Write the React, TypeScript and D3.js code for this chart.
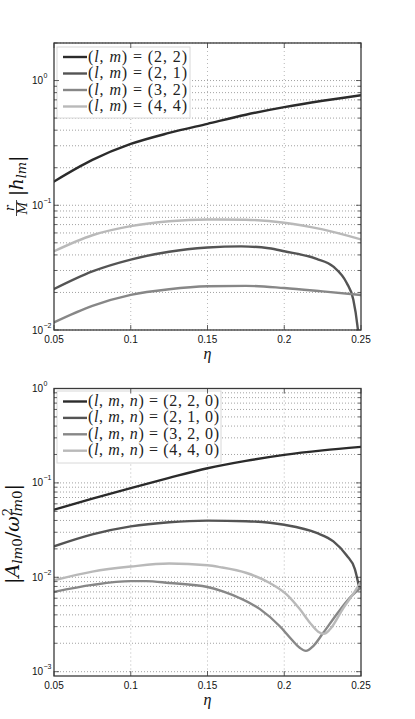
import React from "react";
import * as d3 from "d3";

type Pt = [number, number];

const ETA_TICKS = [0.05, 0.1, 0.15, 0.2, 0.25];
const ETA_TICK_LABELS = ["0.05", "0.1", "0.15", "0.2", "0.25"];

const TOP_Y_DOMAIN: [number, number] = [0.01, 2];
const BOTTOM_Y_DOMAIN: [number, number] = [0.0009, 1];
const TOP_DECADES = [-2, -1, 0];
const BOTTOM_DECADES = [-3, -2, -1, 0];

const TOP_LEGEND = ["(2, 2)", "(2, 1)", "(3, 2)", "(4, 4)"];
const BOTTOM_LEGEND = ["(2, 2, 0)", "(2, 1, 0)", "(3, 2, 0)", "(4, 4, 0)"];

const COLORS = ["#2b2b2b", "#545454", "#878787", "#b9b9b9"];

// top panel: r/M |h_lm|
const H22: Pt[] = [[0.05, 0.155], [0.075, 0.231], [0.1, 0.31], [0.125, 0.38], [0.15, 0.45], [0.175, 0.532], [0.2, 0.612], [0.225, 0.688], [0.25, 0.762]];
const H21: Pt[] = [[0.05, 0.0213], [0.075, 0.0295], [0.1, 0.0367], [0.125, 0.0424], [0.15, 0.0458], [0.172, 0.0468], [0.19, 0.0452], [0.2, 0.0428], [0.2211, 0.0372], [0.232, 0.0322], [0.2407, 0.0238], [0.245, 0.0175], [0.2476, 0.011], [0.249, 0.0072], [0.2499, 0.0025]];
const H32: Pt[] = [[0.05, 0.0115], [0.075, 0.0156], [0.1, 0.0191], [0.125, 0.0212], [0.15, 0.0224], [0.175, 0.0226], [0.2, 0.0217], [0.225, 0.0204], [0.25, 0.0191]];
const H44: Pt[] = [[0.05, 0.0428], [0.075, 0.0575], [0.1, 0.068], [0.125, 0.0745], [0.15, 0.077], [0.175, 0.0765], [0.2, 0.0725], [0.225, 0.064], [0.25, 0.0532]];

// bottom panel: |A_lm0 / w^2_lm0|
const A22: Pt[] = [[0.05, 0.052], [0.075, 0.068], [0.1, 0.088], [0.125, 0.113], [0.15, 0.143], [0.175, 0.171], [0.2, 0.198], [0.225, 0.221], [0.25, 0.241]];
const A21: Pt[] = [[0.05, 0.0213], [0.075, 0.0285], [0.1, 0.0346], [0.125, 0.0383], [0.15, 0.0398], [0.175, 0.0393], [0.2, 0.036], [0.2211, 0.0295], [0.232, 0.024], [0.2407, 0.017], [0.246, 0.0122], [0.2488, 0.0078]];
const A32: Pt[] = [[0.05, 0.007], [0.075, 0.0083], [0.1, 0.0091], [0.11, 0.0091], [0.125, 0.0087], [0.15, 0.0079], [0.16, 0.0071], [0.1712, 0.006], [0.1842, 0.0046], [0.1971, 0.00303], [0.2048, 0.00219], [0.2101, 0.00179], [0.2141, 0.00166], [0.2189, 0.00187], [0.2254, 0.00258], [0.2341, 0.00404], [0.2427, 0.00605], [0.25, 0.0078]];
const A44: Pt[] = [[0.05, 0.0093], [0.075, 0.0115], [0.1, 0.013], [0.125, 0.014], [0.15, 0.0134], [0.1582, 0.0128], [0.1755, 0.0111], [0.1906, 0.0087], [0.2015, 0.0066], [0.2101, 0.0046], [0.2167, 0.0033], [0.2221, 0.00265], [0.2258, 0.00252], [0.2297, 0.0028], [0.2384, 0.0047], [0.246, 0.0071], [0.25, 0.009]];

const TOP_SERIES = [H22, H21, H32, H44];
const BOTTOM_SERIES = [A22, A21, A32, A44];

const LEFT = 54;
const RIGHT = 361;
const TICK_FONT = "'Liberation Sans', Arial, sans-serif";
const MATH_FONT = "'Liberation Serif', 'Times New Roman', serif";
const LABEL_FONT = "'DejaVu Serif', serif";

interface PanelProps {
  id: string;
  top: number;
  bottom: number;
  yDomain: [number, number];
  decades: number[];
  series: Pt[][];
  legendLabels: string[];
  legendVars: string[];
  legendBox: { x: number; y: number; w: number; h: number };
  legendRow0: number;
  legendStep: number;
  legendTextLen: number;
  ylabel: React.ReactNode;
}

function Panel(p: PanelProps) {
  const x = d3.scaleLinear().domain([0.05, 0.25]).range([LEFT, RIGHT]);
  const y = d3.scaleLog().domain(p.yDomain).range([p.bottom, p.top]);
  const line = d3
    .line<Pt>()
    .x((d) => x(d[0]))
    .y((d) => y(d[1]))
    .curve(d3.curveMonotoneX);

  const minor: number[] = [];
  p.decades.forEach((dcd) => {
    for (let k = 1; k <= 9; k++) {
      const v = k * Math.pow(10, dcd);
      if (v >= p.yDomain[0] * 0.999 && v <= p.yDomain[1] * 1.001) minor.push(v);
    }
  });
  const majors = p.decades.map((dcd) => Math.pow(10, dcd));

  return (
    <g>
      <defs>
        <clipPath id={p.id}>
          <rect x={LEFT} y={p.top} width={RIGHT - LEFT} height={p.bottom - p.top} />
        </clipPath>
      </defs>
      {minor.map((v, i) => (
        <line key={"gy" + i} x1={LEFT} x2={RIGHT} y1={y(v)} y2={y(v)} stroke="#7a7a7a" strokeWidth={0.7} strokeDasharray="1 2" />
      ))}
      {ETA_TICKS.slice(1, -1).map((t, i) => (
        <line key={"gx" + i} x1={x(t)} x2={x(t)} y1={p.top} y2={p.bottom} stroke="#9a9a9a" strokeWidth={0.7} strokeDasharray="1 3" />
      ))}
      <g clipPath={`url(#${p.id})`}>
        {p.series.map((s, i) => (
          <path key={"s" + i} d={line(s) || ""} fill="none" stroke={COLORS[i]} strokeWidth={2.4} strokeLinejoin="round" strokeLinecap="round" />
        ))}
      </g>
      <rect x={p.legendBox.x} y={p.legendBox.y} width={p.legendBox.w} height={p.legendBox.h} fill="#fff" stroke="#d8d8d8" strokeWidth={1} />
      {p.legendLabels.map((lab, i) => {
        const cy = p.legendRow0 + i * p.legendStep;
        return (
          <g key={"lg" + i}>
            <line x1={63} x2={87} y1={cy} y2={cy} stroke={COLORS[i]} strokeWidth={2.4} />
            <text x={88} y={cy + 4.5} fontFamily={MATH_FONT} fontSize={16} fill="#222" textLength={p.legendTextLen} lengthAdjust="spacing">
              <tspan>(</tspan>
              {p.legendVars.map((v, j) => (
                <React.Fragment key={j}>
                  <tspan fontStyle="italic">{v}</tspan>
                  {j < p.legendVars.length - 1 ? <tspan>, </tspan> : null}
                </React.Fragment>
              ))}
              <tspan>) = {lab}</tspan>
            </text>
          </g>
        );
      })}
      <rect x={LEFT} y={p.top} width={RIGHT - LEFT} height={p.bottom - p.top} fill="none" stroke="#3a3a3a" strokeWidth={1.3} />
      {minor.map((v, i) => {
        const isMajor = majors.some((m) => Math.abs(m - v) / m < 1e-6);
        const len = isMajor ? 5 : 3;
        return (
          <g key={"ty" + i} stroke="#3a3a3a" strokeWidth={0.8}>
            <line x1={LEFT} x2={LEFT + len} y1={y(v)} y2={y(v)} />
            <line x1={RIGHT} x2={RIGHT - len} y1={y(v)} y2={y(v)} />
          </g>
        );
      })}
      {majors.map((m, i) => (
        <g key={"yl" + i} fontFamily={TICK_FONT} fill="#111">
          <text x={43} y={y(m) + 3.5} fontSize={10} textAnchor="end">10</text>
          <text x={43.5} y={y(m) - 2.5} fontSize={7}>{p.decades[i] === 0 ? "0" : "\u2212" + Math.abs(p.decades[i])}</text>
        </g>
      ))}
      {ETA_TICKS.map((t, i) => (
        <g key={"tx" + i}>
          <line x1={x(t)} x2={x(t)} y1={p.bottom} y2={p.bottom - 5} stroke="#3a3a3a" strokeWidth={0.8} />
          <line x1={x(t)} x2={x(t)} y1={p.top} y2={p.top + 5} stroke="#3a3a3a" strokeWidth={0.8} />
          <text x={x(t)} y={p.bottom + 12.5} fontFamily={TICK_FONT} fontSize={10} textAnchor="middle" fill="#111">
            {ETA_TICK_LABELS[i]}
          </text>
        </g>
      ))}
      <text x={(LEFT + RIGHT) / 2} y={p.bottom + 29} fontFamily={MATH_FONT} fontStyle="italic" fontSize={16} textAnchor="middle" fill="#111">
        η
      </text>
      {p.ylabel}
    </g>
  );
}

function TopYLabel() {
  return (
    <g transform="translate(23,187) rotate(-90)" fontFamily={LABEL_FONT} fill="#111">
      <text x={-21} y={-9} fontSize={12} fontStyle="italic" textAnchor="middle">r</text>
      <line x1={-29} x2={-13} y1={-6.5} y2={-6.5} stroke="#111" strokeWidth={0.8} />
      <text x={-21} y={4} fontSize={12} fontStyle="italic" textAnchor="middle">M</text>
      <text x={-9} y={0} fontSize={18}>
        <tspan>|</tspan>
        <tspan fontStyle="italic">h</tspan>
        <tspan fontSize={13} fontStyle="italic" dy={3}>lm</tspan>
        <tspan dy={-3}>|</tspan>
      </text>
    </g>
  );
}

function BottomYLabel() {
  return (
    <g transform="translate(19,534) rotate(-90)" fontFamily={LABEL_FONT} fill="#111">
      <text x={0} y={0} fontSize={19} textAnchor="middle">
        <tspan>|</tspan>
        <tspan fontStyle="italic">A</tspan>
        <tspan fontSize={13.5} fontStyle="italic" dy={3}>lm</tspan>
        <tspan fontSize={13.5}>0</tspan>
        <tspan dy={-3}>/</tspan>
        <tspan fontStyle="italic">ω</tspan>
        <tspan fontSize={13.5} dy={-7.5}>2</tspan>
        <tspan fontSize={13.5} fontStyle="italic" dx={-8.6} dy={10.5}>lm</tspan>
        <tspan fontSize={13.5}>0</tspan>
        <tspan dy={-3}>|</tspan>
      </text>
    </g>
  );
}

export default function App() {
  return (
    <svg width={415} height={719} style={{ position: "absolute", left: 0, top: 0, display: "block", background: "#fff" }}>
      <rect x={0} y={0} width={415} height={719} fill="#fff" />
      <Panel
        id="clipTop"
        top={43}
        bottom={330}
        yDomain={TOP_Y_DOMAIN}
        decades={TOP_DECADES}
        series={TOP_SERIES}
        legendLabels={TOP_LEGEND}
        legendVars={["l", "m"]}
        legendBox={{ x: 57, y: 47, w: 133, h: 71 }}
        legendRow0={57}
        legendStep={16.5}
        legendTextLen={99}
        ylabel={<TopYLabel />}
      />
      <Panel
        id="clipBottom"
        top={388.5}
        bottom={676}
        yDomain={BOTTOM_Y_DOMAIN}
        decades={BOTTOM_DECADES}
        series={BOTTOM_SERIES}
        legendLabels={BOTTOM_LEGEND}
        legendVars={["l", "m", "n"]}
        legendBox={{ x: 57, y: 391, w: 164, h: 72 }}
        legendRow0={401.5}
        legendStep={16.4}
        legendTextLen={131}
        ylabel={<BottomYLabel />}
      />
    </svg>
  );
}
